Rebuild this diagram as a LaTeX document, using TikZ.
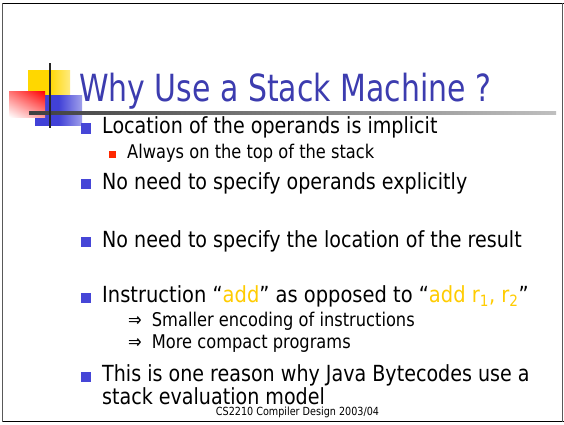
\documentclass[tikz,border=0pt]{standalone}
\usepackage{fontspec}
\usetikzlibrary{shadings}
\setmainfont{DejaVu Sans}
\newfontfamily\bodyfont{DejaVu Sans}[FakeStretch=0.86]
\newfontfamily\titlefont{DejaVu Sans}[FakeStretch=0.8]
\definecolor{titleblue}{RGB}{60,60,175}
\definecolor{bulblue}{RGB}{70,70,215}
\definecolor{bulred}{RGB}{255,40,0}
\definecolor{addyel}{RGB}{255,204,0}
\definecolor{sqyel}{RGB}{255,215,0}
\definecolor{sqblue}{RGB}{65,65,215}
\pgfdeclarehorizontalshading{hline}{100bp}{color(0bp)=(black!85); color(25bp)=(black!75); color(100bp)=(white)}
\pgfdeclarehorizontalshading{yelfade}{100bp}{color(0bp)=(sqyel); color(50bp)=(sqyel); color(100bp)=(white)}
\pgfdeclarehorizontalshading{bluefade}{100bp}{color(0bp)=(sqblue); color(50bp)=(sqblue); color(100bp)=(white)}
\tikzset{
  txt/.style={anchor=base west, inner sep=0pt, font=\bodyfont\fontsize{22.2}{24}\selectfont},
  subtxt/.style={anchor=base west, inner sep=0pt, font=\bodyfont\fontsize{18.9}{21}\selectfont},
  bul/.style={fill=bulblue, draw=none},
  subbul/.style={fill=bulred, draw=none},
  frameline/.style={line width=1.4pt}
}
\begin{document}
\begin{tikzpicture}[x=1pt, y={(0pt,-1pt)}]
\useasboundingbox (0,0) rectangle (564,424);
\fill[white] (0,0) rectangle (564,424);
% frame
\draw[frameline, black] (2,3.3) -- (563.5,3.3);
\draw[frameline, black] (2,421.7) -- (563.5,421.7);
\draw[frameline, black!65] (2.7,3.3) -- (2.7,421.7);
\draw[frameline, black!65] (562.7,3.3) -- (562.7,421.7);
% logo decoration
\shade[shading=yelfade] (28,70) rectangle (70,95);
\shade[shading=bluefade] (35,95) rectangle (82,125);
\shade[upper left=red!55, upper right=red, lower left=white, lower right=red!40] (9,91) rectangle (45,117);
\shade[shading=hline] (29,111.8) rectangle (556,114.3);
\fill[black!85] (49,63) rectangle (51.2,128);
% title
\node[anchor=base west, inner sep=0pt, text=titleblue, font=\titlefont\fontsize{37.4}{40}\selectfont] (title) at (79,101.5) {Why Use a Stack Machine ?};
% bullets
\fill[bul] (81,123) rectangle (91,133.5);
\node[txt] (l1) at (102,133.5) {Location of the operands is implicit};
\fill[subbul] (109,151) rectangle (116,158);
\node[subtxt] (s1) at (127,158.3) {Always on the top of the stack};
\fill[bul] (81,178.5) rectangle (91,189);
\node[txt] (l2) at (102,189) {No need to specify operands explicitly};
\fill[bul] (81,236.5) rectangle (91,247);
\node[txt] (l3) at (102,247) {No need to specify the location of the result};
\fill[bul] (81,292.5) rectangle (91,303);
\node[txt] (l4) at (102,302.3) {\scalebox{1.02}[1]{Instruction “\textcolor{addyel}{add}” as opposed to “\textcolor{addyel}{add r\textsubscript{1}, r\textsubscript{2}}”}};
\node[subtxt] (a1) at (128,326.7) {\makebox[23.7pt][l]{⇒}Smaller encoding of instructions};
\node[subtxt] (a2) at (128,348.3) {\makebox[23.7pt][l]{⇒}More compact programs};
\fill[bul] (81,371.5) rectangle (91,382);
\node[txt] (l5) at (102,381.7) {This is one reason why Java Bytecodes use a};
\node[txt] (l6) at (102,404) {stack evaluation model};
% footer
\node[anchor=base, inner sep=0pt, font=\bodyfont\fontsize{11.2}{12}\selectfont] (foot) at (297.5,415) {CS2210 Compiler Design 2003/04};
\end{tikzpicture}
\end{document}
